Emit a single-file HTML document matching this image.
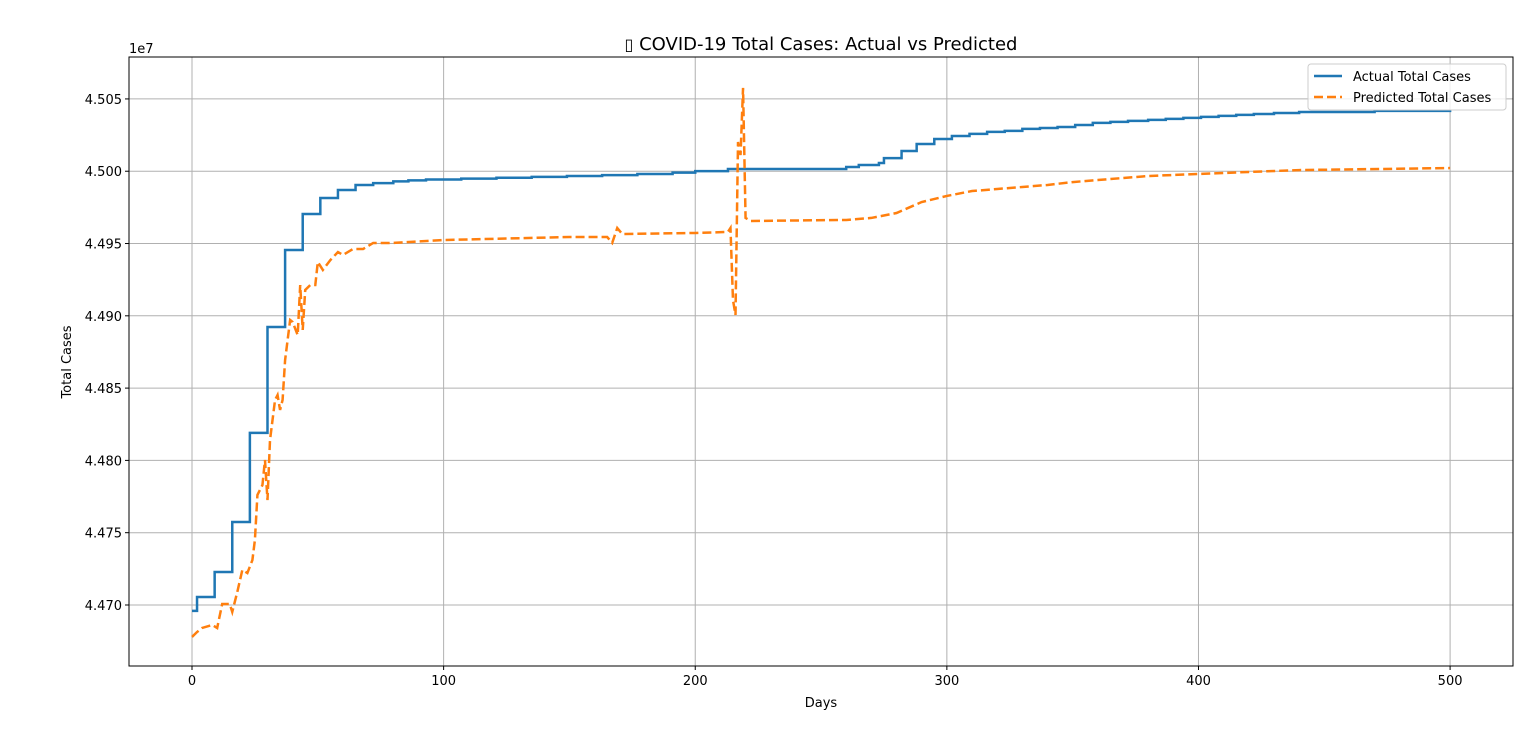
<!DOCTYPE html>
<html><head><meta charset="utf-8"><style>
body{margin:0;background:#fff;}
svg{display:block;font-family:"DejaVu Sans","Liberation Sans",sans-serif;}
</style></head><body>
<svg id="chart" width="1536" height="754">
<rect x="0" y="0" width="1536" height="754" fill="#fff"/>
<g id="grid"></g>
<g id="series"></g>
<rect x="129" y="57" width="1384" height="609" fill="none" stroke="#000" stroke-width="1"/>
<g id="ticks"></g>
<text x="821" y="50" text-anchor="middle" font-size="18"><tspan font-size="16">▯</tspan> COVID-19 Total Cases: Actual vs Predicted</text>
<text x="821" y="707" text-anchor="middle" font-size="13">Days</text>
<text x="71" y="362" text-anchor="middle" font-size="13" transform="rotate(-90 71 362)">Total Cases</text>
<text x="129" y="53" font-size="13">1e7</text>
<g>
<rect x="1308" y="64" width="198" height="46" rx="3" fill="#fff" fill-opacity="0.8" stroke="#ccc"/>
<line x1="1314" y1="76" x2="1342" y2="76" stroke="#1f77b4" stroke-width="2.5"/>
<text x="1353" y="81" font-size="13">Actual Total Cases</text>
<line x1="1314" y1="97" x2="1342" y2="97" stroke="#ff7f0e" stroke-width="2.5" stroke-dasharray="9,4"/>
<text x="1353" y="102" font-size="13">Predicted Total Cases</text>
</g>
</svg>
<script>
const xTicks=[0,100,200,300,400,500];
const yTicks=[4.470,4.475,4.480,4.485,4.490,4.495,4.500,4.505];
const yTickLabels=["4.470","4.475","4.480","4.485","4.490","4.495","4.500","4.505"];
const actualDays=[0,2,9,16,23,30,37,44,51,58,65,72,80,86,93,107,121,135,149,163,177,191,200,213,260,265,273,275,282,288,295,302,309,316,323,330,337,344,351,358,365,372,380,387,394,401,408,415,422,430,440,470,500];
const actualVals=[4.46959,4.47055,4.47228,4.47574,4.48190,4.48923,4.49455,4.49704,4.49815,4.49870,4.49905,4.49918,4.49930,4.49937,4.49943,4.49949,4.49955,4.49961,4.49967,4.49973,4.49981,4.49990,4.50001,4.50015,4.50029,4.50043,4.50057,4.50091,4.50140,4.50188,4.50223,4.50244,4.50258,4.50272,4.50279,4.50293,4.50299,4.50306,4.50320,4.50334,4.50341,4.50348,4.50355,4.50362,4.50369,4.50376,4.50383,4.50390,4.50396,4.50403,4.50410,4.50417,4.50424];
const predDays=[0,2,4,8,10,12,15,16,18,20,22,24,25,26,28,29,30,31,32,33,34,35,36,37,38,39,40,42,43,44,45,47,49,50,52,55,58,60,64,68,72,80,100,150,165,167,169,171,200,213,214,215,216,217,218,219,220,222,260,270,280,290,300,310,320,330,340,350,360,370,380,400,420,440,500];
const predVals=[4.46779,4.46813,4.46841,4.46862,4.46841,4.47007,4.47007,4.46952,4.47090,4.47242,4.47221,4.47311,4.47450,4.47761,4.47830,4.48003,4.47726,4.48141,4.48279,4.48418,4.48452,4.48349,4.48418,4.48694,4.48833,4.48971,4.48957,4.48867,4.49213,4.48902,4.49179,4.49213,4.49213,4.49372,4.49317,4.49386,4.49441,4.49421,4.49462,4.49462,4.49504,4.49504,4.49524,4.49545,4.49545,4.49504,4.49607,4.49566,4.49573,4.49580,4.49607,4.49109,4.49006,4.50202,4.50112,4.50576,4.49677,4.49656,4.49663,4.49677,4.49711,4.49787,4.49829,4.49863,4.49877,4.49891,4.49905,4.49925,4.49939,4.49953,4.49967,4.49981,4.49995,4.50008,4.50022];
const NS="http://www.w3.org/2000/svg";
const X0=129,X1=1513,Y0=57,Y1=666;
const xMin=-25.04,xMax=525.0,yMin=4.46578,yMax=4.50790;
const sx=d=>X0+(d-xMin)/(xMax-xMin)*(X1-X0);
const sy=v=>Y1-(v-yMin)/(yMax-yMin)*(Y1-Y0);
function mk(tag,attrs,parent){const e=document.createElementNS(NS,tag);for(const k in attrs)e.setAttribute(k,attrs[k]);parent.appendChild(e);return e;}
const grid=document.getElementById('grid'),ticks=document.getElementById('ticks'),series=document.getElementById('series');
xTicks.forEach(t=>{const x=sx(t);
 const g=mk('line',{x1:x,x2:x,y1:Y0,y2:Y1,stroke:'#b0b0b0','stroke-width':1},grid);
 
 
 mk('line',{x1:x,x2:x,y1:Y1,y2:Y1+4,stroke:'#000'},ticks);
 const l=mk('text',{x:x,y:Y1+19,'text-anchor':'middle','font-size':13},ticks);l.textContent=t;
 
 });
yTicks.forEach((t,i)=>{const y=sy(t);
 const g=mk('line',{x1:X0,x2:X1,y1:y,y2:y,stroke:'#b0b0b0','stroke-width':1},grid);
 
 
 mk('line',{x1:X0-4,x2:X0,y1:y,y2:y,stroke:'#000'},ticks);
 const l=mk('text',{x:X0-7,y:y+5,'text-anchor':'end','font-size':13},ticks);l.textContent=yTickLabels[i];
 
 });
let d='';
actualDays.forEach((dd,i)=>{const x=sx(dd),y=sy(actualVals[i]);
 if(i===0)d+=`M${x},${y}`;else d+=`H${x}V${y}`;});
d+=`H${sx(500)}`;
const a=mk('path',{d:d,fill:'none',stroke:'#1f77b4','stroke-width':2.5},series);


const pp=predDays.map((dd,i)=>`${sx(dd)},${sy(predVals[i])}`).join(' ');
const p=mk('polyline',{points:pp,fill:'none',stroke:'#ff7f0e','stroke-width':2.5,'stroke-dasharray':'9,4'},series);


</script>
</body></html>
